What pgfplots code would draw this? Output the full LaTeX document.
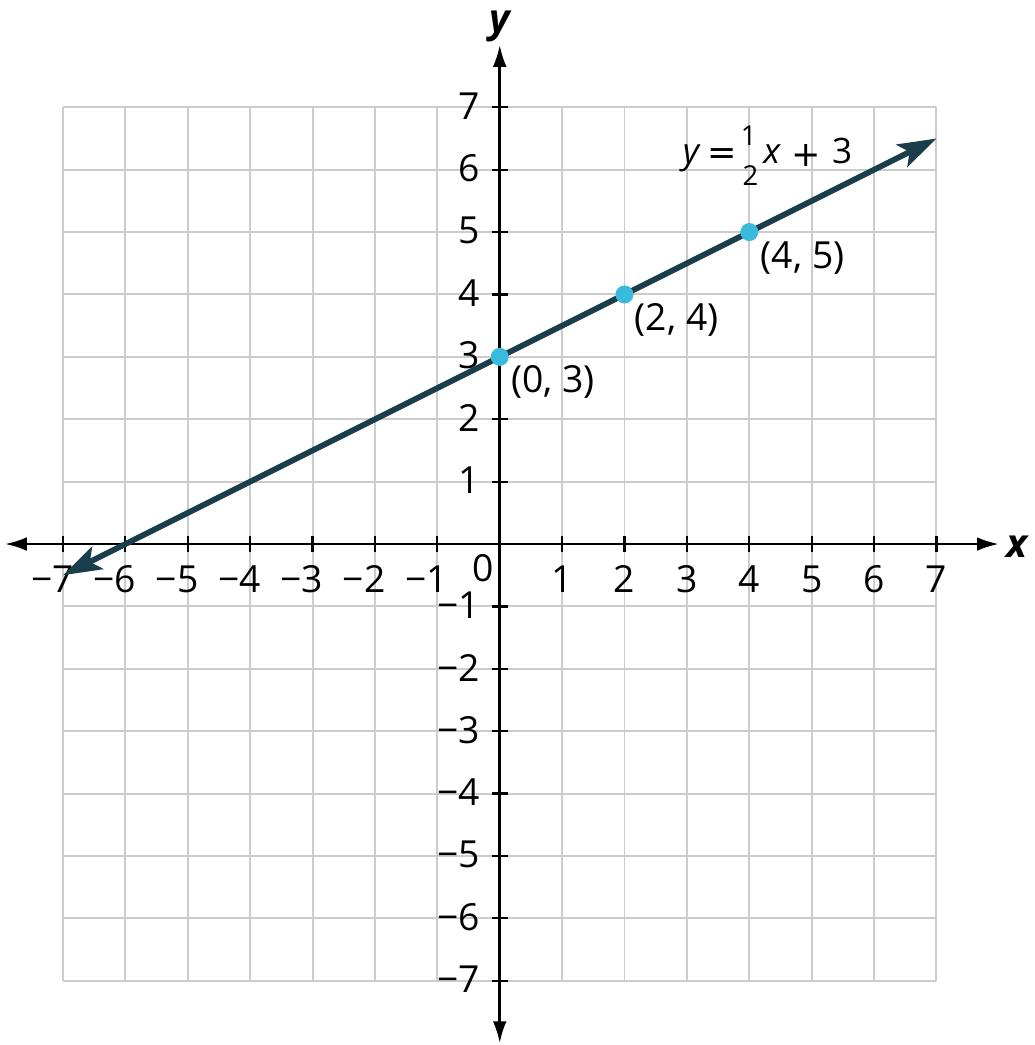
\documentclass[border=0pt]{standalone}
\usepackage{fontspec}
\setmainfont{Open Sans}
\newfontfamily\symf{DejaVu Sans}
\usepackage{pgfplots}
\pgfplotsset{compat=1.18}
\usetikzlibrary{arrows.meta}
\definecolor{lineC}{HTML}{1A3E4C}
\definecolor{ptC}{HTML}{3BBBDC}
\definecolor{gridC}{HTML}{CCCCCC}
\tikzset{axtip/.tip={Latex[length=0.35cm,width=0.22cm]}}
\begin{document}
\begin{tikzpicture}
\begin{axis}[
  x=1cm, y=1cm,
  xmin=-7, xmax=7, ymin=-7, ymax=7,
  axis lines=middle,
  clip=false,
  font=\fontsize{17}{20}\selectfont,
  axis line style={black, line width=1.2pt},
  x axis line style={axtip-axtip, shorten <=-0.93cm, shorten >=-1cm},
  y axis line style={axtip-axtip, shorten <=-1cm, shorten >=-1cm},
  xtick={-7,-6,-5,-4,-3,-2,-1,1,2,3,4,5,6,7},
  ytick={-7,-6,-5,-4,-3,-2,-1,1,2,3,4,5,6,7},
  xticklabels={\llap{−}7,\llap{−}6,\llap{−}5,\llap{−}4,\llap{−}3,\llap{−}2,\llap{−}1,1,2,3,4,5,6,7},
  yticklabels={−7,−6,−5,−4,−3,−2,−1,1,2,3,4,5,6,7},
  xticklabel style={anchor=north, inner sep=0pt, yshift=-0.21cm},
  yticklabel style={anchor=east, inner sep=0pt, xshift=-0.18cm, yshift=0.02cm},
  tick align=center,
  major tick length=0.26cm,
  tick style={black, line width=1pt},
  grid=major,
  major grid style={draw=gridC, line width=0.9pt},
]
\addplot[color=lineC, line width=2.6pt,
  {Stealth[length=0.62cm,width=0.4cm,inset=0.14cm]}-{Stealth[length=0.62cm,width=0.4cm,inset=0.14cm]}]
  coordinates {(-7,-0.5) (7,6.5)};
\addplot[only marks, mark=*, mark size=3.9pt, color=ptC] coordinates {(0,3) (2,4) (4,5)};

% point labels
\node[anchor=west, inner sep=0pt] at (axis cs:0.18,2.6) {(0, 3)};
\node[anchor=west, inner sep=0pt] at (axis cs:2.16,3.59) {(2, 4)};
\node[anchor=west, inner sep=0pt] at (axis cs:4.18,4.59) {(4, 5)};
% equation y = 1/2 x + 3
\begin{scope}[every node/.style={inner sep=0pt}]
\node[anchor=base west, font=\fontsize{16}{18}\selectfont\itshape] at (axis cs:2.93,6.10) {y};
\node[anchor=center, font=\fontsize{16}{18}\symf] at (axis cs:3.56,6.21) {=};
\node[anchor=base, font=\fontsize{12.5}{14}\selectfont] at (axis cs:3.99,6.39) {1};
\node[anchor=base, font=\fontsize{12.5}{14}\selectfont] at (axis cs:4.02,5.75) {2};
\node[anchor=base west, font=\fontsize{16}{18}\selectfont\itshape] at (axis cs:4.22,6.10) {x};
\node[anchor=center, font=\fontsize{16}{18}\symf] at (axis cs:4.91,6.22) {+};
\node[anchor=base west, font=\fontsize{16}{18}\selectfont] at (axis cs:5.32,6.10) {3};
\end{scope}
\node[anchor=center, inner sep=0pt] at (axis cs:-0.265,-0.39) {0};
\node[anchor=base west, inner sep=0pt, font=\fontsize{18}{20}\selectfont\bfseries\itshape]
  at (axis cs:8.12,-0.21) {x};
\node[anchor=base, inner sep=0pt, font=\fontsize{18}{20}\selectfont\bfseries\itshape]
  at (axis cs:0.0,8.2) {y};

\coordinate (bl) at (axis cs:-8.01,-8.03);
\coordinate (tr) at (axis cs:8.57,8.72);
\end{axis}
\pgfresetboundingbox
\path (bl) rectangle (tr);
\end{tikzpicture}
\end{document}
